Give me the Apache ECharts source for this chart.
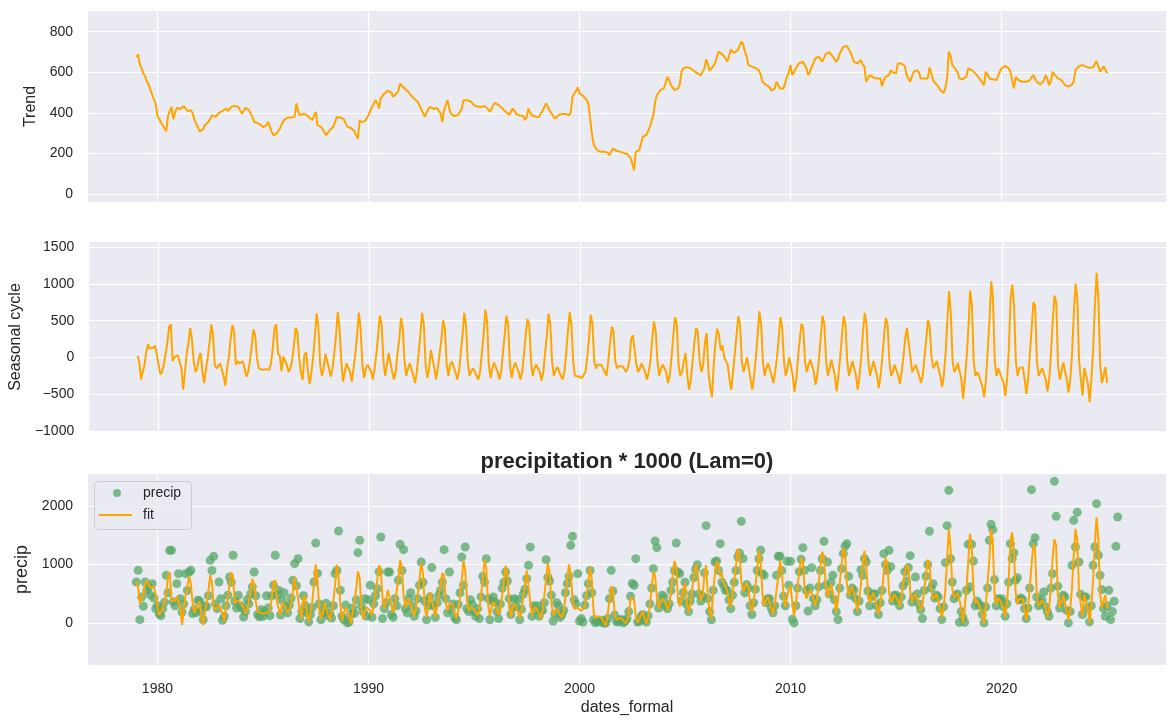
<!DOCTYPE html>
<html>
<head>
<meta charset="utf-8">
<script src="https://cdn.jsdelivr.net/npm/echarts@6/dist/echarts.min.js"></script>
<style>
  html, body { margin: 0; padding: 0; background: #fff; }
  #chart { width: 1176px; height: 724px; }
</style>
</head>
<body>
<div id="chart"></div>
<script>
// monthly series, first value = Jan 1979
var startYear = 1979;

var trend = [
  675,688,640,620,595,580,555,540,515,490,465,447,
  385,370,355,340,325,310,385,410,430,370,400,425,
  430,420,414,434,425,410,406,414,400,370,348,330,
  310,307,320,340,348,356,370,389,385,381,390,400,
  406,410,418,422,409,412,430,439,435,432,430,425,
  398,410,425,430,415,398,380,356,352,350,348,340,
  330,324,340,356,330,307,290,283,300,315,330,350,
  365,370,378,381,378,381,381,447,410,389,392,395,
  398,390,380,373,365,356,406,340,335,332,320,305,
  291,300,315,320,332,340,381,380,378,378,370,350,
  332,330,326,324,310,290,274,365,355,348,360,375,
  389,410,430,445,463,450,422,472,480,495,504,510,
  513,500,480,485,496,510,545,535,525,521,510,500,
  488,480,470,463,455,447,420,400,381,390,420,430,
  430,420,414,425,434,398,356,414,440,463,420,395,
  389,385,381,390,398,420,463,463,463,462,458,450,
  439,435,432,430,430,432,434,434,420,406,420,440,
  450,445,439,435,425,414,410,400,390,381,422,410,
  395,389,389,389,385,365,380,422,400,389,389,382,
  373,380,398,410,430,447,430,414,400,385,373,380,
  389,392,395,398,395,392,389,400,480,496,510,526,
  496,490,485,480,465,447,381,299,250,230,217,213,
  209,209,209,209,205,192,210,225,220,214,212,210,
  204,204,200,198,192,180,151,118,209,213,217,217,
  283,287,291,300,332,360,389,455,488,500,513,518,
  521,550,578,560,537,525,513,517,521,540,603,620,
  628,626,624,620,615,608,600,595,590,585,578,620,
  664,640,608,620,630,644,670,702,695,690,685,670,
  652,680,713,705,695,693,710,730,751,740,702,680,
  636,632,628,625,622,619,610,590,554,545,538,535,
  529,510,504,520,554,545,521,521,521,525,578,600,
  636,587,600,619,635,645,652,652,652,620,587,600,
  628,645,669,675,677,665,652,670,690,693,700,702,
  677,665,652,665,693,710,725,734,730,726,700,677,
  652,648,644,650,660,640,628,554,570,587,580,575,
  570,570,570,570,532,560,578,580,587,611,600,595,
  595,644,644,644,644,630,587,570,554,560,603,605,
  611,600,570,570,570,570,570,624,600,562,550,545,
  530,513,505,499,520,570,702,680,636,625,619,600,
  570,568,566,565,580,619,615,611,605,595,587,575,
  562,550,537,603,590,570,570,566,562,562,580,605,
  619,625,632,636,620,603,560,521,578,570,560,554,
  554,554,554,555,560,575,587,570,554,545,540,537,
  560,587,570,537,555,603,590,580,570,566,562,550,
  537,535,530,529,540,554,611,620,630,636,636,634,
  628,625,622,619,625,640,656,630,603,615,628,615,
  595
];

var seasonal = [
  20,-60,-300,-200,-100,80,180,120,100,130,160,40,
  -100,-230,-200,-100,50,200,420,450,-50,0,-20,30,
  30,-150,-440,-200,50,200,400,250,-50,-200,-150,0,
  60,-200,-350,-150,0,200,450,300,-100,-150,-150,-80,
  -80,-250,-386,-150,0,250,440,350,-100,-50,-80,-55,
  -55,-150,-260,-200,-50,150,380,300,0,-150,-170,-170,
  -170,-160,-150,-170,-80,120,400,450,50,20,-190,10,
  20,-100,-200,-150,-50,150,400,350,0,-200,-305,30,
  70,-200,-360,-200,0,300,600,400,-100,-250,-150,50,
  70,-150,-260,-150,50,300,620,400,-50,-330,-200,-80,
  -55,-200,-330,-150,50,300,610,400,-100,-280,-150,-100,
  -120,-200,-300,-150,50,300,570,450,-50,-250,-100,60,
  60,-200,-300,-200,50,250,536,400,-50,-250,-150,-80,
  -80,-250,-350,-200,50,300,605,450,-100,-280,-150,100,
  100,-150,-300,-150,50,250,505,400,-100,-250,-100,-55,
  -60,-200,-300,-200,50,300,605,450,-50,-250,-190,-150,
  -190,-250,-300,-200,50,300,650,500,-100,-280,-150,-70,
  -70,-200,-300,-200,50,300,570,450,-100,-280,-150,-70,
  -80,-200,-300,-200,50,300,520,450,-50,-250,-150,-100,
  -100,-200,-320,-200,50,300,595,450,-50,-250,-180,-130,
  -130,-250,-300,-200,50,350,614,450,-50,-250,-250,-260,
  -260,-280,-300,-200,0,250,580,450,-50,-150,-100,-100,
  -100,-150,-200,-250,-50,200,420,350,-50,-150,-120,-120,
  -120,-150,-200,-150,-50,250,300,300,-100,-200,-150,-80,
  -80,-200,-300,-200,-50,250,490,350,-50,-250,-150,-100,
  -100,-200,-350,-250,0,300,550,450,-100,-250,-200,-50,
  60,-250,-440,-300,-50,200,400,350,-50,-200,-100,200,
  330,-200,-400,-540,-100,200,390,300,100,160,0,-50,
  -100,-300,-440,-200,50,300,560,450,-50,-200,-100,0,
  0,-300,-440,-250,0,300,627,450,-50,-250,-150,-80,
  -80,-250,-350,-200,0,250,550,400,-50,-250,-150,0,
  0,-250,-473,-300,0,250,460,400,-50,-200,-100,-30,
  -30,-200,-373,-250,0,300,568,450,-50,-250,-150,-30,
  -30,-250,-463,-250,0,300,560,450,-50,-250,-150,-50,
  -50,-250,-440,-250,0,350,605,450,-50,-250,-150,-50,
  -50,-250,-418,-250,0,300,536,450,-50,-250,-200,-100,
  -100,-250,-360,-200,0,250,400,380,0,-200,-150,-100,
  -100,-250,-350,-250,0,250,514,400,0,-150,-100,-50,
  -50,-250,-404,-250,50,500,900,600,-50,-200,-150,-77,
  -77,-300,-564,-300,0,400,909,700,-50,-250,-200,-250,
  -250,-400,-540,-300,100,500,1036,800,-50,-250,-150,-213,
  -213,-350,-523,-300,100,800,990,700,-50,-250,-150,-132,
  -132,-300,-495,-300,50,400,750,700,-50,-250,-200,-145,
  -145,-300,-463,-300,50,500,840,750,-100,-300,-200,-68,
  -68,-300,-477,-300,50,600,1000,800,-50,-300,-518,-145,
  -145,-350,-609,-300,100,700,1150,800,-100,-350,-250,-132,
  -350
];

var precip = [
  704,903,62,449,290,704,560,620,480,676,430,250,
  300,160,130,250,360,818,520,1244,1244,364,300,676,
  846,420,193,330,846,560,875,903,165,240,180,392,
  380,210,60,300,280,470,1073,900,1142,330,250,704,
  420,51,120,300,480,790,700,1159,380,260,477,300,
  260,108,200,400,330,500,620,875,470,150,110,230,
  120,200,470,260,130,470,650,1159,480,560,140,390,
  520,280,180,310,430,733,1017,640,1102,80,200,470,
  300,180,23,150,270,704,1369,850,330,60,170,240,
  340,130,170,90,300,846,900,1573,562,120,60,310,
  6,23,150,260,170,400,1204,1414,290,200,420,120,
  400,648,100,330,470,590,880,1471,80,250,350,875,
  875,150,100,420,300,733,1346,900,1255,250,180,420,
  520,300,120,210,420,650,1045,700,380,60,300,450,
  949,300,100,350,480,560,700,1255,420,180,875,240,
  330,100,60,320,520,1130,650,1300,250,200,400,320,
  200,120,250,80,450,800,700,1102,420,60,380,450,
  360,200,80,330,600,700,875,720,420,150,270,420,
  280,400,60,240,500,580,760,988,1300,120,300,230,
  300,120,200,220,350,1085,780,720,480,40,160,350,
  300,100,150,220,520,676,800,1329,1482,400,330,846,
  40,80,20,310,470,676,900,520,60,10,30,50,
  20,50,0,10,80,420,903,550,140,30,20,60,
  60,10,40,80,200,460,680,648,1102,20,30,120,
  150,60,20,130,330,600,931,1403,1289,260,350,480,
  450,300,250,330,560,700,900,1369,875,846,380,520,
  700,320,200,380,500,780,920,1000,500,380,460,860,
  1664,420,200,60,560,1045,1062,900,1357,700,640,560,
  560,400,250,480,700,900,1130,1200,1738,1102,520,660,
  600,300,150,350,580,900,1100,1244,846,818,350,420,
  420,260,180,300,818,1142,1142,900,460,300,1056,650,
  1056,68,6,300,600,880,1091,1289,903,560,210,600,
  948,420,300,400,620,900,1100,1397,650,1045,500,700,
  818,400,200,62,600,931,1187,1312,1357,800,480,600,
  560,420,200,380,914,818,1100,1045,550,300,450,500,
  500,300,150,350,560,1187,1000,900,1244,966,380,480,
  480,380,300,450,640,880,722,950,1153,360,450,790,
  500,330,230,80,560,800,1000,1568,600,676,430,480,
  450,250,62,280,1034,1664,2266,1100,704,420,480,500,
  15,200,100,15,560,1346,620,1346,1060,300,380,330,
  300,150,6,280,600,1414,1687,1596,744,300,420,400,
  420,280,120,330,700,1357,1102,1200,733,778,400,430,
  400,250,80,260,600,2278,1357,1460,449,300,350,400,
  534,280,200,119,600,846,2420,1823,630,260,360,480,
  450,220,6,200,988,1755,1300,1891,1045,494,150,449,
  450,260,23,300,988,1300,2039,1159,818,574,250,119,
  300,562,62,200,375,1312,1812
];

// tick positions
var xTicks = [1980, 1990, 2000, 2010, 2020];
var trendTicks = [0, 200, 400, 600, 800];
var seasonalTicks = [-1000, -500, 0, 500, 1000, 1500];
var precipTicks = [0, 1000, 2000];

function monthX(i) { return startYear + i / 12; }

var trendData = trend.map(function (v, i) { return [monthX(i), v]; });
var seasonalData = seasonal.map(function (v, i) { return [monthX(i), v]; });
var fitData = trend.map(function (v, i) { return [monthX(i), v + seasonal[i]]; });
var precipData = precip.map(function (v, i) { return [monthX(i), v]; });

var font = 'Liberation Sans, Arial, Helvetica, sans-serif';
var ink = '#262626';
var orange = '#FFA500';
var white = { color: '#ffffff', width: 1.2 };

function minusSign(v) { return String(v).replace('-', '\u2212'); }

function xAxisFor(idx, showLabels) {
  return {
    type: 'value', gridIndex: idx,
    min: 1976.71, max: 2027.79,
    axisLine: { show: false },
    axisTick: { show: false, customValues: xTicks },
    splitLine: { show: true, lineStyle: white },
    axisLabel: {
      show: showLabels, customValues: xTicks,
      margin: 17, fontSize: 14, color: ink, fontFamily: font,
      formatter: function (v) { return String(v); }
    },
    name: showLabels ? 'dates_formal' : '',
    nameLocation: 'middle', nameGap: 35,
    nameTextStyle: { fontSize: 16, color: ink, fontFamily: font }
  };
}

function yAxisFor(idx, name, min, max, ticks, nameGap, nameSize) {
  return {
    type: 'value', gridIndex: idx, min: min, max: max,
    axisLine: { show: false },
    axisTick: { show: false, customValues: ticks },
    splitLine: { show: true, lineStyle: white },
    axisLabel: {
      customValues: ticks, margin: 15,
      fontSize: 14, color: ink, fontFamily: font, formatter: minusSign
    },
    name: name, nameLocation: 'middle', nameGap: nameGap,
    nameTextStyle: { fontSize: nameSize, color: ink, fontFamily: font }
  };
}

var gridBase = { left: 88, right: 10, show: true, backgroundColor: '#eaeaf2', borderWidth: 0 };

var option = {
  animation: false,
  backgroundColor: '#ffffff',
  textStyle: { fontFamily: font, color: ink },
  title: {
    text: 'precipitation * 1000 (Lam=0)',
    left: 627, top: 451, textAlign: 'center', padding: 0,
    textStyle: { fontSize: 22, fontWeight: 'bold', color: ink, fontFamily: font }
  },
  // legend frame
  graphic: [{
    type: 'rect', z: 3,
    shape: { x: 94.5, y: 481.5, width: 97, height: 48, r: 4 },
    style: { fill: 'rgba(234,234,242,0.8)', stroke: '#cccccc', lineWidth: 1 }
  }],
  legend: [
    {
      left: 113, top: 486, padding: 0, itemWidth: 8, itemHeight: 8,
      textStyle: { fontSize: 14, color: ink, fontFamily: font, padding: [0, 0, 0, 17] },
      data: [{ name: 'precip', icon: 'circle' }]
    },
    {
      left: 99, top: 508, padding: 0, itemWidth: 33, itemHeight: 2,
      textStyle: { fontSize: 14, color: ink, fontFamily: font, padding: [0, 0, 0, 6] },
      data: [{ name: 'fit', icon: 'rect' }]
    }
  ],
  grid: [
    Object.assign({ top: 11, height: 191 }, gridBase),
    Object.assign({ top: 242, height: 190 }, gridBase),
    Object.assign({ top: 474, height: 191 }, gridBase)
  ],
  xAxis: [xAxisFor(0, false), xAxisFor(1, false), xAxisFor(2, true)],
  yAxis: [
    yAxisFor(0, 'Trend', -38, 902, trendTicks, 47, 16),
    yAxisFor(1, 'Seasonal cycle', -1015, 1570, seasonalTicks, 64, 16),
    yAxisFor(2, 'precip', -711, 2545, precipTicks, 54, 18)
  ],
  series: [
    {
      name: 'trend', type: 'line', xAxisIndex: 0, yAxisIndex: 0,
      data: trendData, showSymbol: false, symbol: 'none',
      lineStyle: { color: orange, width: 2 }, itemStyle: { color: orange }
    },
    {
      name: 'seasonal', type: 'line', xAxisIndex: 1, yAxisIndex: 1,
      data: seasonalData, showSymbol: false, symbol: 'none',
      lineStyle: { color: orange, width: 2 }, itemStyle: { color: orange }
    },
    {
      name: 'precip', type: 'scatter', xAxisIndex: 2, yAxisIndex: 2,
      data: precipData, symbolSize: 9,
      itemStyle: { color: '#55A868', opacity: 0.75 }
    },
    {
      name: 'fit', type: 'line', xAxisIndex: 2, yAxisIndex: 2,
      data: fitData, showSymbol: false, symbol: 'none',
      lineStyle: { color: orange, width: 2 }, itemStyle: { color: orange }
    }
  ]
};

var myChart = echarts.init(document.getElementById('chart'));
option && myChart.setOption(option);
</script>
</body>
</html>
